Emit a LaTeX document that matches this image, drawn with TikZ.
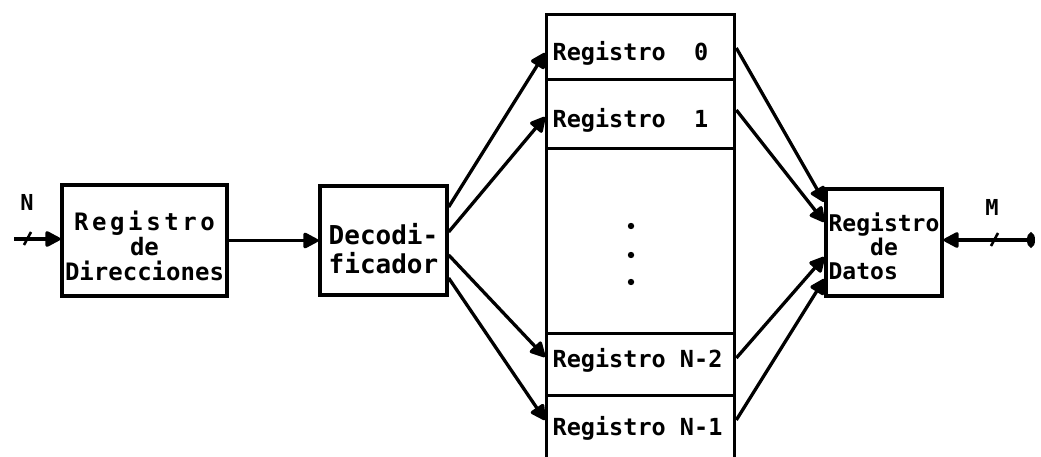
\documentclass[tikz,border=0pt]{standalone}
\usepackage{fontspec}
\setmonofont{DejaVu Sans Mono}
\usetikzlibrary{arrows.meta}
\begin{document}
\begin{tikzpicture}[x=1pt,y=-1pt,
  line width=3.3pt,
  box/.style={draw, inner sep=0pt},
  boxtxt/.style={inner sep=0pt, align=center},
  row/.style={draw, minimum width=188pt, inner sep=0pt, anchor=north west},
  memtxt/.style={inner sep=0pt, anchor=west,
    font=\ttfamily\bfseries\fontsize{23.5pt}{25pt}\selectfont},
  lbl/.style={inner sep=0pt, font=\ttfamily\bfseries\fontsize{22pt}{24pt}\selectfont},
  conn/.style={-{Triangle[length=17pt,width=17pt,round]}},
  tick/.style={line width=2.6pt}]
\useasboundingbox (0,0) rectangle (1041,457);

% address register, decoder, data register
\node[box, minimum width=165pt, minimum height=111pt] (rd)  at (144.5,240.5) {};
\node[box, minimum width=127pt, minimum height=109pt] (dec) at (383.5,240.5) {};
\node[box, minimum width=116pt, minimum height=107pt] (dat) at (884,242.5) {};

\node[boxtxt, font=\ttfamily\bfseries\fontsize{24pt}{25pt}\selectfont] (rdt) at (144.5,245.5)
  {{\addfontfeature{LetterSpace=15}Registro}\\de\\Direcciones};
\node[boxtxt, font=\ttfamily\bfseries\fontsize{26pt}{29pt}\selectfont] (dect) at (383.5,249)
  {Decodi-\\ficador};
\node[boxtxt, align=left, font=\ttfamily\bfseries\fontsize{23pt}{24pt}\selectfont] (datt) at (884,246.5)
  {Registro\\\hphantom{Reg}de\\Datos};

% memory column
\node[row, minimum height=65pt]  (m0)  at (545,13)  {};
\node[row, minimum height=69pt]  (m1)  at (545,78)  {};
\node[row, minimum height=185pt] (mid) at (545,147) {};
\node[row, minimum height=62pt]  (m2)  at (545,332) {};
\node[row, minimum height=80pt]  (m3)  at (545,394) {};

\node[memtxt] (t0) at (551,53)  {Registro\ \ 0};
\node[memtxt] (t1) at (551,120) {Registro\ \ 1};
\node[memtxt] (t2) at (551,360) {Registro N-2};
\node[memtxt] (t3) at (551,428) {Registro N-1};

\fill (631,226) circle (3.2pt) (631,255) circle (3.2pt) (631,282) circle (3.2pt);

% bus widths
\node[lbl] (nl) at (27,202) {N};
\node[lbl] (ml) at (992,207) {M};

% address path
\coordinate (in) at (14,239);
\draw[conn] (in) -- (rd.west |- in);
\draw[tick] (in) ++(10,6) -- ++(7,-13);
\draw[conn] (rd.east) -- (dec.west);

% decoder outputs to the registers
\draw[conn] (dec.east |- 0,207) -- (m0.west |- 0,53);
\draw[conn] (dec.east |- 0,232) -- (m1.west |- 0,117);
\draw[conn] (dec.east |- 0,255) -- (m2.west |- 0,357);
\draw[conn] (dec.east |- 0,278) -- (m3.west |- 0,420);

% registers to the data register
\draw[conn] (m0.east |- 0,48)  -- (dat.west |- 0,202);
\draw[conn] (m1.east |- 0,110) -- (dat.west |- 0,222);
\draw[conn] (m2.east |- 0,358) -- (dat.west |- 0,257);
\draw[conn] (m3.east |- 0,420) -- (dat.west |- 0,279);

% data bus
\coordinate (out) at (1035,240);
\draw[{Triangle[length=17pt,width=17pt,round]}-{Ellipse[length=8pt,width=15pt]}] (dat.east |- out) -- (out);
\draw[tick] (out) ++(-44,6) -- ++(7,-13);
\end{tikzpicture}
\end{document}
